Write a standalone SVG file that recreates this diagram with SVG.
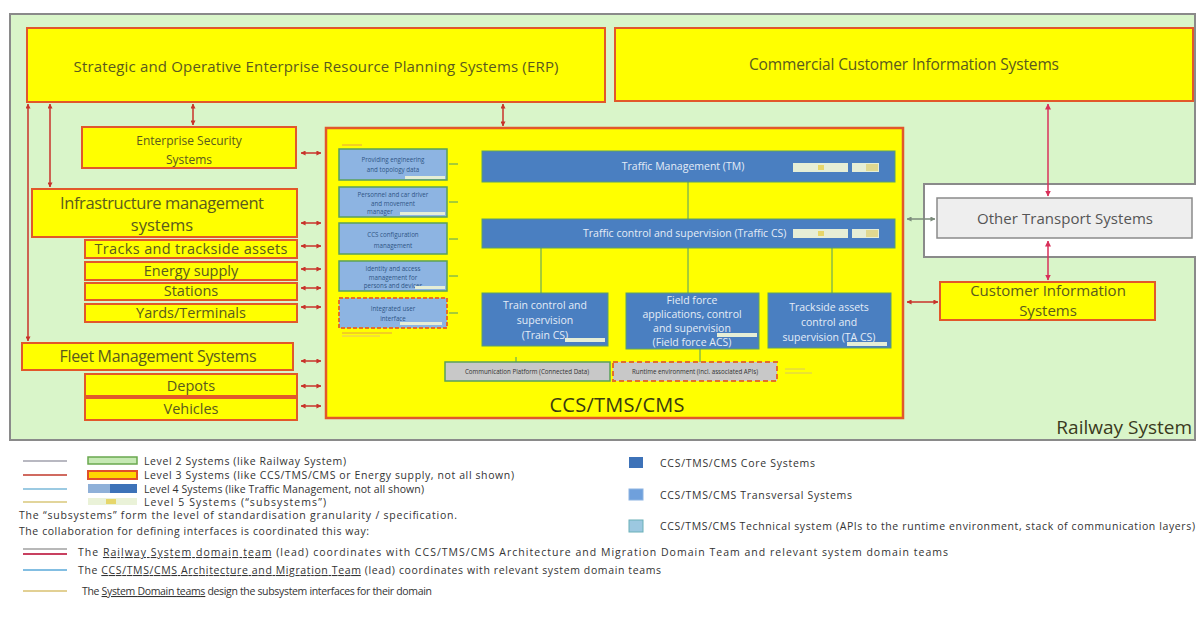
<svg xmlns="http://www.w3.org/2000/svg" width="1198" height="623" viewBox="0 0 1198 623">
<defs>
<style>
.l3{fill:#ffff00;stroke:#e2582a;stroke-width:2}
.t3{font-family:"Open Sans","Liberation Sans",sans-serif;fill:#5a5a1e;text-anchor:middle}
.core{fill:#4a7fc1;stroke:#5aa06a;stroke-width:1}
.tc{font-family:"Open Sans","Liberation Sans",sans-serif;fill:#e4ecf7;text-anchor:middle;font-size:10.5px}
.trv{fill:#8db4e2;stroke:#5aa05a;stroke-width:1.5}
.tt{font-family:"Open Sans","Liberation Sans",sans-serif;fill:#2f5585;text-anchor:middle;font-size:6.2px}
.tech{fill:#c8c8c8;stroke:#5aa05a;stroke-width:1.5}
.l5{fill:#e6eed6}
.l5y{fill:#e6d66a}
.red{stroke:#c8322a;stroke-width:1.5;fill:none}
.crim{stroke:#d8305a;stroke-width:1.5;fill:none}
.grn{stroke:#4e9a6a;stroke-width:1;fill:none}
.lg{font-family:"Open Sans","Liberation Sans",sans-serif;fill:#333;font-size:10.5px}
</style>
<marker id="ar" viewBox="0 0 6 6" refX="5.5" refY="3" markerWidth="5" markerHeight="5" orient="auto-start-reverse" markerUnits="userSpaceOnUse"><path d="M0,0 L6,3 L0,6 z" fill="#c8322a"/></marker>
<marker id="ac" viewBox="0 0 6 6" refX="5.5" refY="3" markerWidth="6" markerHeight="6" orient="auto-start-reverse" markerUnits="userSpaceOnUse"><path d="M0,0 L6,3 L0,6 z" fill="#d8305a"/></marker>
<marker id="ag" viewBox="0 0 6 6" refX="5.5" refY="3" markerWidth="5" markerHeight="5" orient="auto-start-reverse" markerUnits="userSpaceOnUse"><path d="M0,0 L6,3 L0,6 z" fill="#7a8a7a"/></marker>
</defs>
<rect width="1198" height="623" fill="#ffffff"/>

<g id="railway-system">
<polygon points="10,14 1195,14 1195,184 924,184 924,257 1195,257 1195,440 10,440" fill="#d9f5c9" stroke="#8a8a8a" stroke-width="2"/>
<text x="1192" y="434" font-family="Open Sans,Liberation Sans,sans-serif" font-size="19" fill="#3a3a20" text-anchor="end">Railway System</text>
</g>

<g id="erp">
<rect class="l3" x="27" y="28" width="578" height="74"/>
<text class="t3" x="316" y="72" font-size="15" textLength="485">Strategic and Operative Enterprise Resource Planning Systems (ERP)</text>
</g>
<g id="commercial-cis">
<rect class="l3" x="615" y="28" width="578" height="73"/>
<text class="t3" x="904" y="70" font-size="15.5" textLength="310">Commercial Customer Information Systems</text>
</g>
<g id="enterprise-security">
<rect class="l3" x="82" y="127" width="214" height="41"/>
<text class="t3" x="189" y="145" font-size="12">Enterprise Security</text>
<text class="t3" x="189" y="164" font-size="12">Systems</text>
</g>
<g id="infrastructure-management">
<rect class="l3" x="32" y="189" width="265" height="48"/>
<text class="t3" x="162" y="209" font-size="16.5" textLength="204">Infrastructure management</text>
<text class="t3" x="162" y="231" font-size="16.5">systems</text>
</g>
<g id="tracks">
<rect class="l3" x="85" y="240" width="212" height="18"/>
<text class="t3" x="191" y="254" font-size="14.5" textLength="193">Tracks and trackside assets</text>
</g>
<g id="energy-supply">
<rect class="l3" x="85" y="262" width="212" height="18"/>
<text class="t3" x="191" y="276" font-size="14.5">Energy supply</text>
</g>
<g id="stations">
<rect class="l3" x="85" y="283" width="212" height="17"/>
<text class="t3" x="191" y="296" font-size="14.5">Stations</text>
</g>
<g id="yards">
<rect class="l3" x="85" y="304" width="212" height="18"/>
<text class="t3" x="191" y="318" font-size="14.5">Yards/Terminals</text>
</g>
<g id="fleet-management">
<rect class="l3" x="22" y="343" width="271" height="27"/>
<text class="t3" x="158" y="362" font-size="16" textLength="197">Fleet Management Systems</text>
</g>
<g id="depots">
<rect class="l3" x="85" y="374" width="212" height="22"/>
<text class="t3" x="191" y="391" font-size="14.5">Depots</text>
</g>
<g id="vehicles">
<rect class="l3" x="85" y="398" width="212" height="22"/>
<text class="t3" x="191" y="414" font-size="14.5">Vehicles</text>
</g>

<g id="ccs-tms-cms">
<rect x="326" y="128" width="577" height="290" fill="#ffff00" stroke="#e2582a" stroke-width="2.5"/>
<text x="617" y="412" font-family="Open Sans,Liberation Sans,sans-serif" font-size="20" fill="#3a3a10" text-anchor="middle" textLength="135">CCS/TMS/CMS</text>
<line x1="342" y1="145" x2="362" y2="145" stroke="#e8a040" stroke-width="1"/>
<line x1="342" y1="333" x2="392" y2="333" stroke="#e8a040" stroke-width="1"/>
<line x1="342" y1="336" x2="380" y2="336" stroke="#e8c070" stroke-width="1"/>
<line x1="785" y1="369" x2="805" y2="369" stroke="#d8c860" stroke-width="1"/>
<line x1="785" y1="373" x2="812" y2="373" stroke="#d8c860" stroke-width="1"/>
</g>

<g id="engineering-data">
<rect class="trv" x="339" y="149" width="108" height="31"/>
<text class="tt" x="393" y="162">Providing engineering</text>
<text class="tt" x="393" y="172">and topology data</text>
<rect class="l5" x="405" y="176" width="40" height="3"/>
</g>
<g id="personnel">
<rect class="trv" x="339" y="187" width="108" height="30"/>
<text class="tt" x="393" y="197">Personnel and car driver</text>
<text class="tt" x="393" y="205.5">and movement</text>
<text class="tt" x="380" y="214">manager</text>
<rect class="l5" x="400" y="212" width="45" height="3"/>
</g>
<g id="ccs-configuration">
<rect class="trv" x="339" y="223" width="108" height="31"/>
<text class="tt" x="393" y="237">CCS configuration</text>
<text class="tt" x="393" y="248">management</text>
</g>
<g id="identity-access">
<rect class="trv" x="339" y="261" width="108" height="30"/>
<text class="tt" x="393" y="271">Identity and access</text>
<text class="tt" x="393" y="279.5">management for</text>
<text class="tt" x="393" y="288">persons and devices</text>
<rect class="l5" x="415" y="286" width="30" height="3"/>
</g>
<g id="integrated-ui">
<rect x="339" y="298" width="108" height="30" fill="#8db4e2" stroke="#e2702a" stroke-width="2" stroke-dasharray="4,2"/>
<text class="tt" x="393" y="311">Integrated user</text>
<text class="tt" x="393" y="321">interface</text>
<rect class="l5" x="400" y="322" width="42" height="3"/>
</g>

<g id="traffic-management">
<rect class="core" x="482" y="151" width="413" height="31"/>
<text class="tc" x="683" y="170">Traffic Management (TM)</text>
<rect class="l5" x="793" y="163" width="55" height="9"/>
<rect class="l5y" x="818" y="165" width="6" height="5"/>
<rect class="l5" x="852" y="163" width="27" height="9"/>
<rect x="866" y="164" width="12" height="7" fill="#e0d890"/>
</g>
<g id="traffic-cs">
<rect class="core" x="482" y="219" width="413" height="29"/>
<text class="tc" x="583" y="237" style="text-anchor:start">Traffic control and supervision (Traffic CS)</text>
<rect class="l5" x="793" y="229" width="55" height="9"/>
<rect class="l5y" x="818" y="231" width="6" height="5"/>
<rect class="l5" x="852" y="229" width="27" height="9"/>
<rect x="866" y="230" width="12" height="7" fill="#e0d890"/>
</g>
<g id="train-cs">
<rect class="core" x="482" y="293" width="126" height="53"/>
<text class="tc" x="545" y="309">Train control and</text>
<text class="tc" x="545" y="324">supervision</text>
<text class="tc" x="545" y="339">(Train CS)</text>
<rect class="l5" x="565" y="338" width="40" height="4"/>
</g>
<g id="field-force">
<rect class="core" x="626" y="293" width="133" height="56"/>
<text class="tc" x="692" y="304">Field force</text>
<text class="tc" x="692" y="318">applications, control</text>
<text class="tc" x="692" y="332">and supervision</text>
<text class="tc" x="692" y="346">(Field force ACS)</text>
<rect class="l5" x="717" y="333" width="40" height="4"/>
</g>
<g id="trackside-cs">
<rect class="core" x="768" y="293" width="123" height="55"/>
<text class="tc" x="829" y="311">Trackside assets</text>
<text class="tc" x="829" y="326">control and</text>
<text class="tc" x="829" y="341">supervision (TA CS)</text>
<rect class="l5" x="847" y="342" width="40" height="4"/>
</g>
<g id="communication-platform">
<rect class="tech" x="445" y="362" width="165" height="19"/>
<text class="tt" x="527" y="374" style="fill:#333">Communication Platform (Connected Data)</text>
</g>
<g id="runtime-environment">
<rect x="613" y="362" width="164" height="19" fill="#c8c8c8" stroke="#e2702a" stroke-width="2" stroke-dasharray="5,3"/>
<text class="tt" x="695" y="374" style="fill:#333">Runtime environment (incl. associated APIs)</text>
</g>

<g id="other-transport">
<rect x="937" y="198" width="255" height="40" fill="#eeeeee" stroke="#8a8a8a" stroke-width="1.5"/>
<text x="1065" y="224" font-family="Open Sans,Liberation Sans,sans-serif" font-size="15" fill="#555" text-anchor="middle" textLength="176">Other Transport Systems</text>
</g>
<g id="customer-information">
<rect class="l3" x="940" y="282" width="215" height="38"/>
<text class="t3" x="1048" y="296" font-size="15">Customer Information</text>
<text class="t3" x="1048" y="316" font-size="15">Systems</text>
</g>

<g id="connectors">
<line class="red" x1="193" y1="104" x2="193" y2="125" marker-start="url(#ar)" marker-end="url(#ar)"/>
<line class="red" x1="503" y1="104" x2="503" y2="126" marker-start="url(#ar)" marker-end="url(#ar)"/>
<line class="red" x1="28" y1="104" x2="28" y2="341" marker-start="url(#ar)" marker-end="url(#ar)"/>
<line class="red" x1="50" y1="104" x2="50" y2="187" marker-start="url(#ar)" marker-end="url(#ar)"/>
<line class="red" x1="301" y1="153" x2="321" y2="153" marker-start="url(#ar)" marker-end="url(#ar)"/>
<line class="red" x1="301" y1="223" x2="321" y2="223" marker-start="url(#ar)" marker-end="url(#ar)"/>
<line class="red" x1="301" y1="246" x2="321" y2="246" marker-start="url(#ar)" marker-end="url(#ar)"/>
<line class="red" x1="301" y1="269" x2="321" y2="269" marker-start="url(#ar)" marker-end="url(#ar)"/>
<line class="red" x1="301" y1="288" x2="321" y2="288" marker-start="url(#ar)" marker-end="url(#ar)"/>
<line class="red" x1="301" y1="307" x2="321" y2="307" marker-start="url(#ar)" marker-end="url(#ar)"/>
<line class="red" x1="301" y1="361" x2="321" y2="361" marker-start="url(#ar)" marker-end="url(#ar)"/>
<line class="red" x1="301" y1="386" x2="321" y2="386" marker-start="url(#ar)" marker-end="url(#ar)"/>
<line class="red" x1="301" y1="406" x2="321" y2="406" marker-start="url(#ar)" marker-end="url(#ar)"/>
<line class="crim" x1="1048" y1="104" x2="1048" y2="196" marker-start="url(#ac)" marker-end="url(#ac)"/>
<line class="crim" x1="1048" y1="241" x2="1048" y2="280" marker-start="url(#ac)" marker-end="url(#ac)"/>
<line x1="907" y1="219" x2="935" y2="219" stroke="#7a8a7a" stroke-width="1.5" marker-start="url(#ag)" marker-end="url(#ag)"/>
<line class="red" x1="907" y1="302" x2="938" y2="302" marker-start="url(#ar)" marker-end="url(#ar)"/>
<line class="grn" x1="449" y1="164" x2="458" y2="164"/>
<line class="grn" x1="449" y1="202" x2="458" y2="202"/>
<line class="grn" x1="449" y1="239" x2="458" y2="239"/>
<line class="grn" x1="449" y1="276" x2="458" y2="276"/>
<line class="grn" x1="449" y1="313" x2="458" y2="313"/>
<line class="grn" x1="688" y1="182" x2="688" y2="219"/>
<line class="grn" x1="541" y1="248" x2="541" y2="293"/>
<line class="grn" x1="688" y1="248" x2="688" y2="293"/>
<line class="grn" x1="832" y1="248" x2="832" y2="293"/>
<line class="grn" x1="516" y1="357" x2="516" y2="362"/>
<line class="grn" x1="700" y1="349" x2="700" y2="362"/>
</g>

<g id="legend">
<line x1="23" y1="461" x2="67" y2="461" stroke="#a0a0ac" stroke-width="1.5"/>
<rect x="88" y="457" width="49" height="7" fill="#c6e9b4" stroke="#6aa84f" stroke-width="1.5"/>
<text class="lg" x="144" y="465" textLength="202">Level 2 Systems  (like Railway System)</text>
<line x1="23" y1="475" x2="67" y2="475" stroke="#c0392b" stroke-width="1.5"/>
<rect x="88" y="471" width="49" height="8" fill="#ffd700" stroke="#e0502a" stroke-width="2"/>
<text class="lg" x="144" y="479" textLength="370">Level 3 Systems  (like CCS/TMS/CMS or Energy supply, not all shown)</text>
<line x1="23" y1="489" x2="67" y2="489" stroke="#7ab8d8" stroke-width="1.5"/>
<rect x="88" y="484" width="22" height="9" fill="#8fb0d8"/>
<rect x="110" y="484" width="27" height="9" fill="#3d72b8"/>
<text class="lg" x="144" y="493" textLength="280">Level 4 Systems  (like Traffic Management, not all shown)</text>
<line x1="23" y1="502" x2="67" y2="502" stroke="#d9c77a" stroke-width="1.5"/>
<rect x="88" y="498" width="49" height="7" fill="#eaf2d8"/>
<rect x="106" y="499" width="10" height="5" fill="#e6d66a"/>
<text class="lg" x="144" y="506" textLength="182">Level 5 Systems  (“subsystems”)</text>
<text class="lg" x="19" y="519" textLength="438">The “subsystems” form the level of standardisation granularity / specification.</text>
<text class="lg" x="19" y="535" textLength="350">The collaboration for defining interfaces is coordinated this way:</text>
<line x1="23" y1="549" x2="67" y2="549" stroke="#a0a0a0" stroke-width="1.5"/>
<line x1="23" y1="554" x2="67" y2="554" stroke="#c84060" stroke-width="2"/>
<text class="lg" x="78" y="556" textLength="870">The <tspan text-decoration="underline">Railway System domain team</tspan> (lead) coordinates with CCS/TMS/CMS Architecture and Migration Domain Team and relevant system domain teams</text>
<line x1="23" y1="570" x2="67" y2="570" stroke="#5aa8d8" stroke-width="1.5"/>
<text class="lg" x="78" y="574" textLength="583">The <tspan text-decoration="underline">CCS/TMS/CMS Architecture and Migration Team</tspan> (lead) coordinates with relevant system domain teams</text>
<line x1="23" y1="591" x2="67" y2="591" stroke="#d9c070" stroke-width="1.5"/>
<text class="lg" x="82" y="595" textLength="350">The <tspan text-decoration="underline">System Domain teams</tspan> design the subsystem interfaces for their domain</text>
<rect x="629" y="457" width="14" height="11" fill="#3d72b8"/>
<text class="lg" x="660" y="467" textLength="155">CCS/TMS/CMS Core Systems</text>
<rect x="629" y="489" width="14" height="11" fill="#6fa0dc" stroke="#8db4e2"/>
<text class="lg" x="660" y="499" textLength="192">CCS/TMS/CMS Transversal Systems</text>
<rect x="629" y="520" width="14" height="12" fill="#9cc8e0" stroke="#6ab0b8"/>
<text class="lg" x="660" y="530" textLength="535">CCS/TMS/CMS Technical system (APIs to the runtime environment, stack of communication layers)</text>
</g>
</svg>
